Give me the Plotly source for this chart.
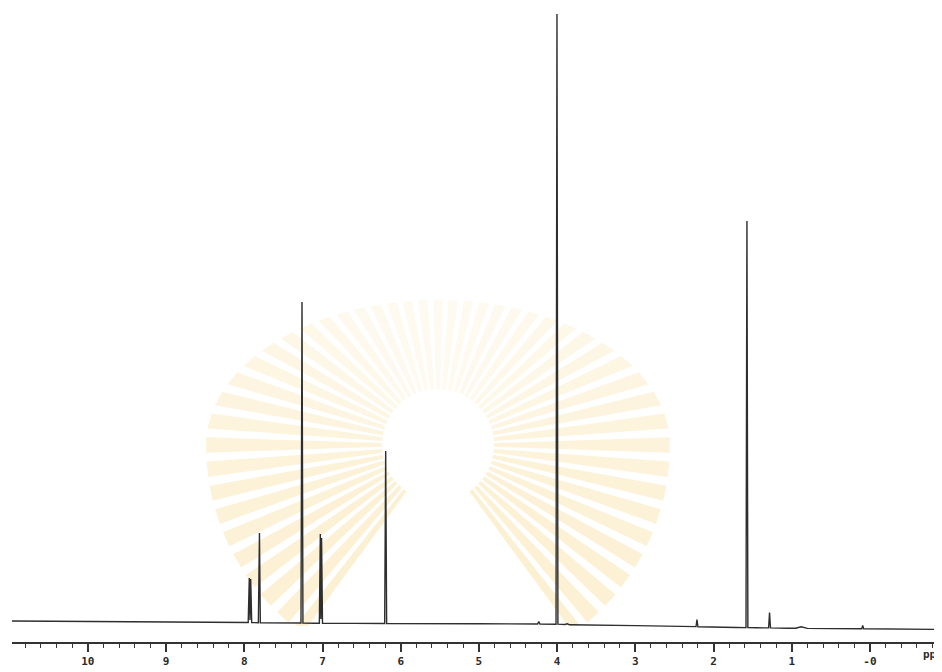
import math
import plotly.graph_objects as go

# Spectrum trace vertices (chemical shift in ppm, intensity in arbitrary units)
trace_ppm = [10.97, 9.50, 8.50, 8.05, 7.950, 7.936, 7.927, 7.918, 7.905, 7.820, 7.806, 7.795,
             7.60, 7.275, 7.262, 7.250, 7.10, 7.040, 7.028, 7.020, 7.012, 7.000, 6.60,
             6.205, 6.192, 6.180, 5.00, 4.25, 4.235, 4.22, 4.014, 4.002, 3.990, 3.90,
             3.87, 3.84, 3.00, 2.224, 2.212, 2.200, 1.70, 1.585, 1.573, 1.561, 1.45,
             1.296, 1.284, 1.272, 1.05, 0.95, 0.88, 0.80, 0.50, 0.105, 0.093, 0.081, -0.92]
trace_int = [2.0, 1.5, 1.0, 0.6, 0.5, 45.0, 3.0, 44.0, 0.4, 0.3, 90.0, 0.3,
             0.2, 0.0, 321.0, 0.0, -0.2, -0.2, 89.0, 4.0, 85.0, -0.3, -0.4,
             -0.5, 172.0, -0.5, -0.8, -1.0, 1.5, -1.0, -1.2, 609.0, -1.2, -1.5,
             -0.8, -1.8, -2.6, -3.6, 3.5, -3.8, -4.5, -4.6, 402.0, -4.6, -4.8,
             -4.9, 10.5, -4.9, -5.2, -5.3, -3.8, -5.4, -5.6, -5.8, -2.5, -5.8, -6.4]

major_ticks = [10, 9, 8, 7, 6, 5, 4, 3, 2, 1, 0]
major_labels = ["10", "9", "8", "7", "6", "5", "4", "3", "2", "1", "-0"]

# ---- layout geometry (figure pixels) ----
W, H = 934, 664
ML, MR, MT, MB = 4, 0, 0, 30
PW, PH = W - ML - MR, H - MT - MB


def to_paper(px, py):
    """figure pixel (from top-left) -> paper fraction"""
    return (px - ML) / PW, (H - MB - py) / PH


# ---- faint watermark (decorative sunburst) ----
shapes = []
cx, cy = 430, 437          # centre in figure pixels
a_out, b_out = 232, 145    # outer extent
r_in = 56
ang = -54.0
while ang <= 234.0:
    half = 1.9
    pts = []
    for t, outer in ((ang - half, False), (ang + half, False), (ang + half, True), (ang - half, True)):
        th = math.radians(t)
        if not outer:
            r = r_in
        elif math.sin(th) > 0:
            r = 1.0 / math.sqrt((math.cos(th) / a_out) ** 2 + (math.sin(th) / b_out) ** 2)
        else:
            r = a_out
        px = cx + r * math.cos(th)
        py = min(cy - r * math.sin(th), 618)
        pts.append(to_paper(px, py))
    path = "M " + " L ".join(f"{x:.4f},{y:.4f}" for x, y in pts) + " Z"
    s = math.sin(math.radians(ang))
    alpha = 0.20 - 0.12 * max(s, 0.0) + 0.05 * max(-s, 0.0)
    shapes.append(dict(type="path", path=path, xref="paper", yref="paper",
                       fillcolor=f"rgba(243,194,72,{alpha:.3f})", line=dict(width=0),
                       layer="below"))
    ang += 6.0

fig = go.Figure()
fig.add_trace(go.Scatter(
    x=trace_ppm, y=trace_int, mode="lines",
    line=dict(color="#2e2e2e", width=1.4),
    hoverinfo="skip", showlegend=False,
))

fig.update_layout(
    width=W, height=H,
    margin=dict(l=ML, r=MR, t=MT, b=MB),
    paper_bgcolor="white", plot_bgcolor="rgba(0,0,0,0)",
    shapes=shapes,
    xaxis=dict(
        range=[10.97, -0.921],
        showgrid=False, zeroline=False,
        showline=True, linecolor="#333333", linewidth=1.5,
        ticks="outside", ticklen=8, tickwidth=1.5, tickcolor="#333333",
        tickvals=major_ticks, ticktext=major_labels,
        tickfont=dict(family="DejaVu Sans Mono", size=11, color="#2a2a2a", weight="bold"),
        minor=dict(dtick=0.2, tick0=0, ticks="outside", ticklen=4, tickwidth=1.2,
                   tickcolor="#333333", showgrid=False),
    ),
    yaxis=dict(
        range=[-19, 615], visible=False, showgrid=False, zeroline=False,
    ),
    annotations=[dict(
        text="ppm", xref="paper", yref="paper", x=1.0, y=0, xanchor="left",
        yshift=-21, xshift=-21, showarrow=False,
        font=dict(family="DejaVu Sans Mono", size=11, color="#2a2a2a", weight="bold"),
    )],
)

fig.write_html("out.html")
